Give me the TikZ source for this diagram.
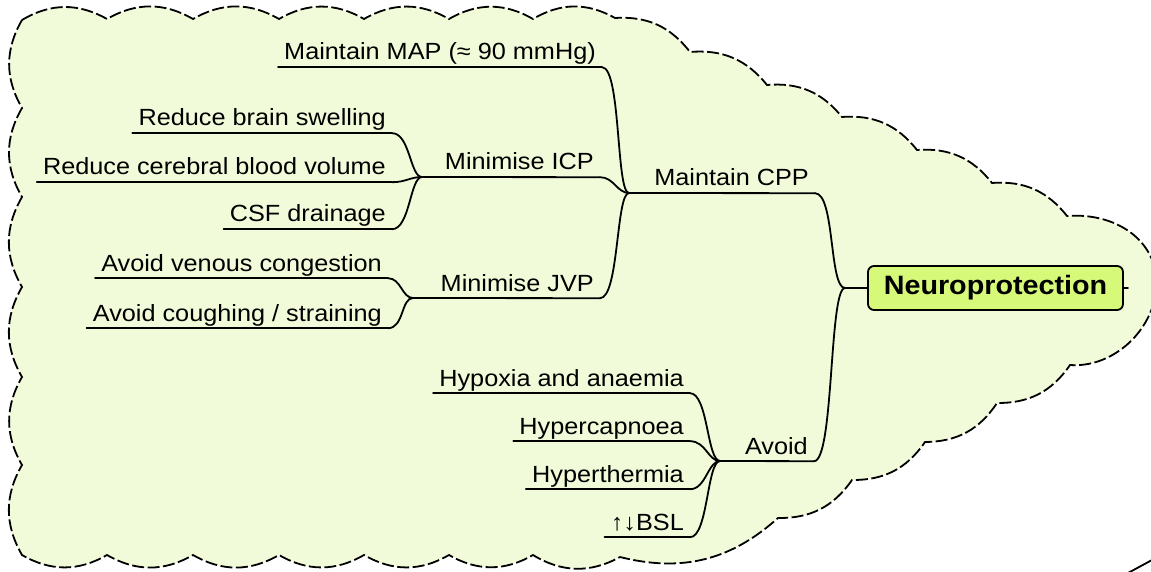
\documentclass[tikz,border=0pt]{standalone}
\usepackage{fontspec}
\setmainfont{Liberation Sans}[FakeStretch=1.08]
\definecolor{cloudfill}{RGB}{241,251,217}
\definecolor{rootfill}{RGB}{214,249,122}
\newcommand{\topicfont}{\fontsize{23.4}{28}\selectfont}
\newcommand{\rootfont}{\fontsize{26.6}{30}\selectfont\bfseries}
\begin{document}
\begin{tikzpicture}[x=1pt,y=1pt,
  cloudline/.style={draw=black, line width=1.8pt, dash pattern=on 12pt off 3.5pt},
  branch/.style={draw=black, line width=1.8pt, line cap=round},
  topic/.style={anchor=base east, inner xsep=6pt, inner ysep=0pt,
    text height=17pt, text depth=7pt, font=\topicfont},
  rootbox/.style={draw=black, line width=1.8pt, fill=rootfill,
    rounded corners=6pt, minimum width=255pt, minimum height=44pt,
    inner sep=0pt, font=\rootfont}]
\useasboundingbox (0,0) rectangle (1151,-572);

% boundary cloud
\path[cloudline, fill=cloudfill]
  (22,-20) to[bend left=30] (107,-19) to[bend left=30] (193,-19)
  to[bend left=30] (279,-19) to[bend left=30] (364,-19)
  to[bend left=30] (449,-19) to[bend left=30] (533,-19)
  to[bend left=30] (615,-18)
  to[bend left=28] (690,-52) to[bend left=28] (767,-85)
  to[bend left=28] (842,-117) to[bend left=28] (917,-150)
  to[bend left=28] (992,-183) to[bend left=28] (1067,-216)
  .. controls (1120,-212) and (1162,-245) .. (1156,-292)
  .. controls (1150,-335) and (1110,-368) .. (1070,-365)
  to[bend left=28] (997,-403) to[bend left=28] (925,-442)
  to[bend left=28] (852,-480) to[bend left=28] (778,-518)
  to[bend left=28] (620,-557)
  to[bend left=30] (533,-555) to[bend left=30] (449,-555)
  to[bend left=30] (364,-555) to[bend left=30] (279,-555)
  to[bend left=30] (193,-555) to[bend left=30] (107,-555)
  to[bend left=30] (22,-555)
  to[bend left=30] (22,-465) to[bend left=30] (22,-377)
  to[bend left=30] (22,-287) to[bend left=30] (22,-197)
  to[bend left=30] (22,-108) to[bend left=30] (22,-20) -- cycle;
% edge of a neighbouring cloud
\draw[draw=black, line width=1.8pt] (1128,-573) -- (1152,-560);

% central topic
\node[rootbox] (root) at (995.5,-288) {Neuroprotection};

% main branches
\node[topic] (cpp) at (815,-186) {Maintain CPP};
\node[topic] (avoid) at (814,-454) {Avoid};

% sub-branches of Maintain CPP
\node[topic] (map) at (602,-60) {Maintain MAP (≈ 90 mmHg)};
\node[topic] (icp) at (600,-170) {Minimise ICP};
\node[topic] (jvp) at (600,-291) {Minimise JVP};

% under Minimise ICP
\node[topic] (brain) at (392,-126) {Reduce brain swelling};
\node[topic] (cbv) at (392,-175) {Reduce cerebral blood volume};
\node[topic] (csf) at (392,-222) {CSF drainage};

% under Minimise JVP
\node[topic] (venous) at (388,-271) {Avoid venous congestion};
\node[topic] (cough) at (388,-321) {Avoid coughing / straining};

% under Avoid
\node[topic] (hypoxia) at (690,-386) {Hypoxia and anaemia};
\node[topic] (hypercap) at (690,-434) {Hypercapnoea};
\node[topic] (hypertherm) at (690,-482) {Hyperthermia};
\node[topic] (bsl) at (690,-530) {↑↓BSL};

% junction points where sub-topics meet
\coordinate (jroot) at (845,-288);
\coordinate (jcpp) at (629,-193);
\coordinate (jicp) at (422,-177);
\coordinate (jjvp) at (413,-298);
\coordinate (javoid) at (720,-461);
\coordinate (rootstub) at (1128,-288);

% underlines
\foreach \n in {map,brain,cbv,csf,venous,cough,hypoxia,hypercap,hypertherm,bsl}
  \draw[branch] (\n.south west) -- (\n.south east);
\draw[branch] (jcpp) -- (cpp.south east);
\draw[branch] (javoid) -- (avoid.south east);
\draw[branch] (jicp) -- (icp.south east);
\draw[branch] (jjvp) -- (jvp.south east);

% connectors
\draw[branch] (root.west) -- (jroot);
\draw[branch] (root.east) -- (rootstub);
\draw[branch] (cpp.south east) .. controls +(20,0) and +(-16,0) .. (jroot);
\draw[branch] (avoid.south east) .. controls +(20,0) and +(-16,0) .. (jroot);

\draw[branch] (map.south east) .. controls +(19,0) and +(-13,0) .. (jcpp);
\draw[branch] (icp.south east) .. controls +(14,0) and +(-12,0) .. (jcpp);
\draw[branch] (jvp.south east) .. controls +(19,0) and +(-13,0) .. (jcpp);

\draw[branch] (brain.south east) .. controls +(18,0) and +(-12,0) .. (jicp);
\draw[branch] (cbv.south east) .. controls +(14,0) and +(-12,0) .. (jicp);
\draw[branch] (csf.south east) .. controls +(18,0) and +(-12,0) .. (jicp);

\draw[branch] (venous.south east) .. controls +(13,0) and +(-11,0) .. (jjvp);
\draw[branch] (cough.south east) .. controls +(16,0) and +(-12,0) .. (jjvp);

\draw[branch] (hypoxia.south east) .. controls +(18,0) and +(-13,0) .. (javoid);
\draw[branch] (hypercap.south east) .. controls +(16,0) and +(-12,0) .. (javoid);
\draw[branch] (hypertherm.south east) .. controls +(16,0) and +(-12,0) .. (javoid);
\draw[branch] (bsl.south east) .. controls +(18,0) and +(-13,0) .. (javoid);
\end{tikzpicture}
\end{document}
